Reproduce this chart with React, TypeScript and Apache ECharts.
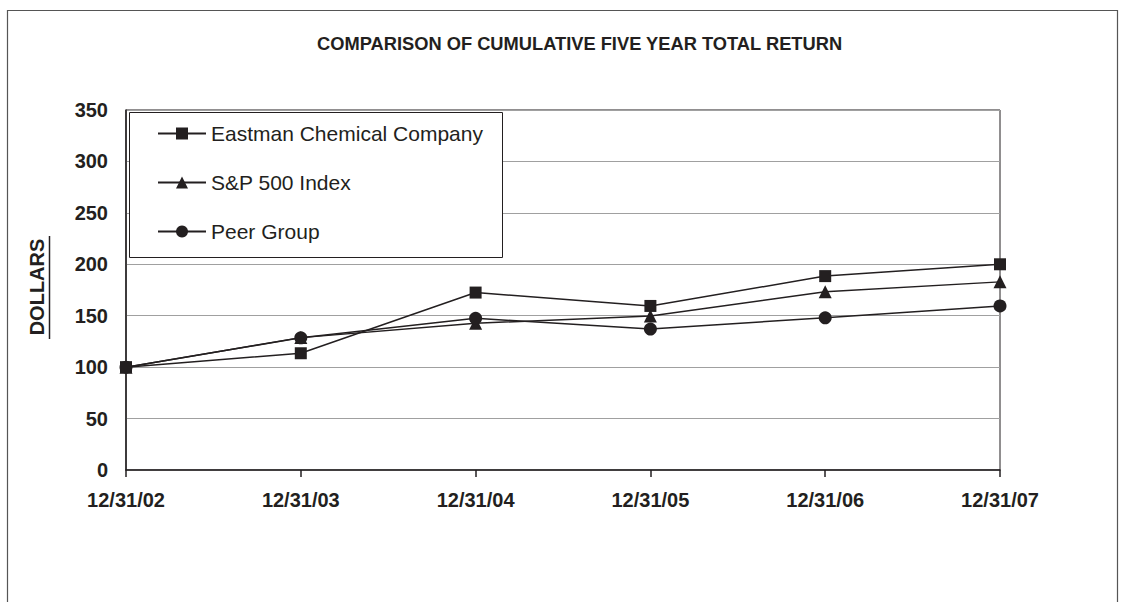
import React, { useEffect, useRef } from "react";
import * as echarts from "echarts";

const categories = ["12/31/02", "12/31/03", "12/31/04", "12/31/05", "12/31/06", "12/31/07"];
const eastman = [100, 113.5, 172.5, 159.5, 188.5, 200];
const sp500 = [100, 128.7, 142.7, 149.7, 173.3, 182.9];
const peer = [100, 128.5, 147.5, 137, 148, 159.5];
const titleText = "COMPARISON OF CUMULATIVE FIVE YEAR TOTAL RETURN";
const yName = "DOLLARS";

const INK = "#231f20";
const FONT = "'Liberation Sans', Arial, sans-serif";

export default function App() {
  const ref = useRef<HTMLDivElement>(null);
  useEffect(() => {
    if (!ref.current) return;
    const chart = echarts.init(ref.current, undefined, { renderer: "svg" });
    const mk = (name: string, data: number[], symbol: string, size: number) => ({
      name,
      type: "line",
      data,
      symbol,
      symbolSize: size,
      showSymbol: true,
      lineStyle: { color: INK, width: 1.5 },
      itemStyle: { color: INK },
      z: 2,
    });
    chart.setOption({
      animation: false,
      backgroundColor: "#ffffff",
      title: {
        text: titleText,
        left: 317,
        top: 34,
        padding: 0,
        textStyle: { fontFamily: FONT, fontWeight: "bold", fontSize: 18.3, color: INK },
      },
      grid: {
        left: 126,
        right: 126,
        top: 110,
        bottom: 132,
        show: true,
        borderColor: INK,
        borderWidth: 1,
        backgroundColor: "transparent",
      },
      legend: {
        orient: "vertical",
        left: 157,
        top: 123,
        itemWidth: 48,
        itemHeight: 15,
        itemGap: 28,
        padding: 0,
        z: 5,
        data: ["Eastman Chemical Company", "S&P 500 Index", "Peer Group"],
        textStyle: { fontFamily: FONT, fontSize: 21, color: INK, lineHeight: 21 },
      },
      xAxis: {
        type: "category",
        data: categories,
        boundaryGap: false,
        axisLine: { lineStyle: { color: INK, width: 1.5 } },
        axisTick: { show: true, length: 7, lineStyle: { color: INK, width: 1.5 } },
        axisLabel: {
          margin: 20,
          fontFamily: FONT,
          fontWeight: "bold",
          fontSize: 20,
          color: INK,
        },
        splitLine: { show: false },
      },
      yAxis: {
        type: "value",
        min: 0,
        max: 350,
        interval: 50,
        axisLine: { show: true, lineStyle: { color: INK, width: 1.5 } },
        axisTick: { show: false },
        axisLabel: {
          margin: 18,
          fontFamily: FONT,
          fontWeight: "bold",
          fontSize: 20,
          color: INK,
        },
        splitLine: { show: true, lineStyle: { color: "#a0a0a0", width: 1 } },
      },
      graphic: [
        {
          type: "rect",
          shape: { x: 7.5, y: 10.5, width: 1110, height: 700 },
          style: { fill: "none", stroke: "#555", lineWidth: 1.2 },
          z: 1,
          silent: true,
        },
        {
          type: "rect",
          shape: { x: 129.5, y: 112.5, width: 373, height: 145 },
          style: { fill: "#ffffff", stroke: INK, lineWidth: 1 },
          z: 3,
          silent: true,
        },
        {
          type: "text",
          x: 37,
          y: 287,
          rotation: Math.PI / 2,
          style: {
            text: yName,
            fontFamily: FONT,
            fontWeight: "bold",
            fontSize: 20,
            fill: INK,
            align: "center",
            verticalAlign: "middle",
          },
          z: 3,
        },
        {
          type: "line",
          shape: { x1: 49.5, y1: 236, x2: 49.5, y2: 339 },
          style: { stroke: INK, lineWidth: 1.5 },
          z: 3,
        },
      ],
      series: [
        mk("Eastman Chemical Company", eastman, "rect", 12),
        mk("S&P 500 Index", sp500, "triangle", 13),
        mk("Peer Group", peer, "circle", 13),
      ],
    });
    return () => chart.dispose();
  }, []);
  return (
    <div
      ref={ref}
      style={{ position: "absolute", left: 0, top: 0, width: 1126, height: 602 }}
    />
  );
}
